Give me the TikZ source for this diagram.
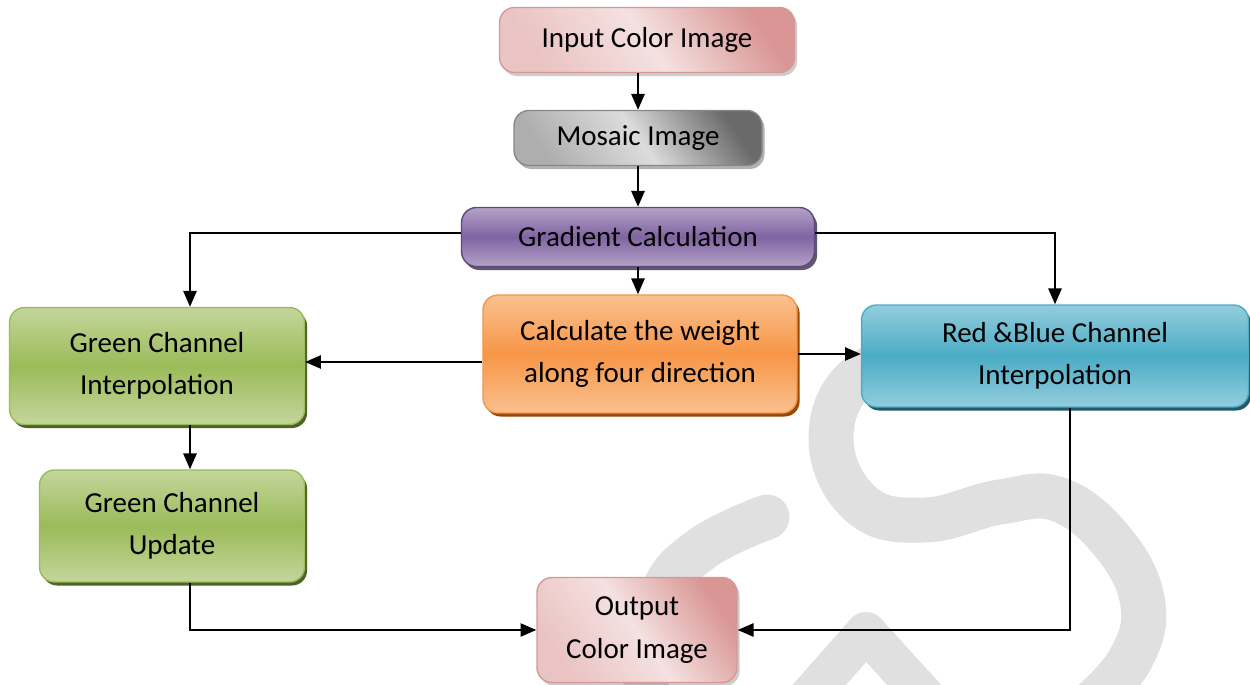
\documentclass[tikz,border=0pt]{standalone}
\usepackage{fontspec}
\setmainfont{Carlito}
\usetikzlibrary{arrows.meta,calc,shadows,positioning}
\definecolor{pinkl}{HTML}{F2DCDB}
\definecolor{pinkd}{HTML}{D99694}
\definecolor{greyl}{HTML}{DCDCDC}
\definecolor{greyd}{HTML}{6A6A6A}
\definecolor{purpl}{HTML}{B3A2C7}
\definecolor{purpm}{HTML}{8064A2}
\definecolor{purpd}{HTML}{5F497A}
\definecolor{orngl}{HTML}{FAC090}
\definecolor{orngm}{HTML}{F79646}
\definecolor{orngd}{HTML}{984807}
\definecolor{grnl}{HTML}{C3D69B}
\definecolor{grnm}{HTML}{9BBB59}
\definecolor{grnd}{HTML}{4F6228}
\definecolor{bluel}{HTML}{93CDDD}
\definecolor{bluem}{HTML}{4BACC6}
\definecolor{blued}{HTML}{215968}
\tikzset{
  box/.style={
    rounded corners=0.3cm,
    line width=0.8pt,
    align=center,
    inner sep=0pt,
    font=\fontsize{16.5}{24}\selectfont
  },
  pinkbox/.style={
    box,
    draw=pinkd,
    top color=pinkd, bottom color=pinkl!65!pinkd, middle color=pinkl!85!white,
    shading angle=-55,
    drop shadow={shadow xshift=1.5pt, shadow yshift=-2pt, fill=black, opacity=0.2}
  },
  greybox/.style={
    box,
    draw=greyd!80,
    top color=greyd, bottom color=greyl!60!greyd, middle color=greyl,
    shading angle=-55,
    drop shadow={shadow xshift=1.5pt, shadow yshift=-2pt, fill=black, opacity=0.3}
  },
  purpbox/.style={
    box,
    draw=purpd,
    top color=purpl, bottom color=purpl, middle color=purpm,
    drop shadow={shadow xshift=1.5pt, shadow yshift=-2pt, fill=purpd!60!black, opacity=0.8}
  },
  orngbox/.style={
    box,
    draw=orngm,
    top color=orngl, bottom color=orngl, middle color=orngm,
    drop shadow={shadow xshift=1.5pt, shadow yshift=-2pt, fill=orngd, opacity=1}
  },
  grnbox/.style={
    box,
    draw=grnm,
    top color=grnl, bottom color=grnl, middle color=grnm,
    drop shadow={shadow xshift=1.5pt, shadow yshift=-2pt, fill=grnd, opacity=1}
  },
  bluebox/.style={
    box,
    draw=bluem,
    top color=bluel, bottom color=bluel, middle color=bluem,
    drop shadow={shadow xshift=1.5pt, shadow yshift=-2pt, fill=blued, opacity=1}
  },
  arr/.style={
    line width=1.1pt,
    -{Triangle[length=9pt,width=7.5pt]}
  },
  wmark/.style={
    draw=black!12,
    line width=0.9cm,
    line cap=round,
    line join=round
  }
}

\begin{document}
\begin{tikzpicture}[x=0.02cm,y=-0.02cm]
  \useasboundingbox (0,0) rectangle (1250,685);
  \clip (0,0) rectangle (1250,685);
  \fill[white] (0,0) rectangle (1250,685);

  \draw[wmark] plot[smooth,tension=0.7] coordinates {(940,350) (860,375) (831,440) (862,505) (925,520) (1000,502) (1060,500) (1115,545) (1143,605) (1130,660) (1090,705)};
  \draw[wmark] plot[smooth,tension=0.7] coordinates {(767,517) (700,550) (660,600) (645,700)};
  \draw[wmark,line width=0.8cm] (797,710) -- (866,632) -- (937,710);

  \node[pinkbox,minimum width=5.9cm,minimum height=1.3cm] (input) at (647,40) {Input Color Image};
  \node[greybox,minimum width=4.96cm,minimum height=1.1cm] (mosaic) at (638,138) {Mosaic Image};
  \node[purpbox,minimum width=7.06cm,minimum height=1.18cm] (grad) at (638,237) {Gradient Calculation};
  \node[orngbox,minimum width=6.28cm,minimum height=2.36cm] (calc) at (640,354) {Calculate the weight\\along four direction};
  \node[grnbox,minimum width=5.9cm,minimum height=2.34cm] (greeni) at (157,366) {Green Channel\\Interpolation};
  \node[bluebox,minimum width=7.74cm,minimum height=2.04cm] (rb) at (1055,356) {Red \&Blue Channel\\Interpolation};
  \node[grnbox,minimum width=5.3cm,minimum height=2.24cm] (greenu) at (172,526) {Green Channel\\Update};
  \node[pinkbox,minimum width=4cm,minimum height=2.1cm] (output) at (637,630) {Output\\Color Image};

  \coordinate (lx) at (190,0);
  \coordinate (rx) at (1070,0);

  \draw[arr] (input.south -| mosaic.north) -- (mosaic.north);
  \draw[arr] (mosaic.south) -- (grad.north);
  \draw[arr] (grad.south) -- (grad.south |- calc.north);
  \draw[arr] ([yshift=0.08cm]grad.west) -| (greeni.north -| lx);
  \draw[arr] ([yshift=0.08cm]grad.east) -| (rb.north);
  \draw[arr] ([yshift=-0.16cm]calc.west) -- ([yshift=-0.16cm]calc.west -| greeni.east);
  \draw[arr] (calc.east) -- (calc.east -| rb.west);
  \draw[arr] (greeni.south -| lx) -- (greenu.north -| lx);
  \draw[arr] (greenu.south -| lx) |- (output.west);
  \draw[arr] (rb.south -| rx) |- (output.east);
\end{tikzpicture}
\end{document}
